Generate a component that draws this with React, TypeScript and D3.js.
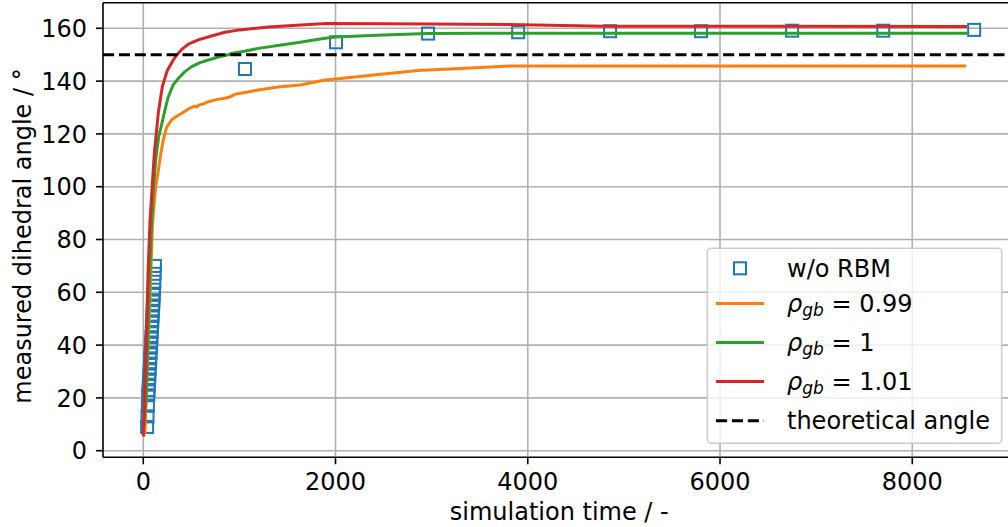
import React from "react";
import * as d3 from "d3";

// ---------- data ----------
const xTicks = [0, 2000, 4000, 6000, 8000];
const yTicks = [0, 20, 40, 60, 80, 100, 120, 140, 160];

const rbmTime = [40, 44, 48, 52, 55, 58, 61, 64, 67, 70, 73, 76, 79, 82, 85, 88, 91, 94, 97, 100, 103, 106, 109, 112, 115, 118, 121,
  1058, 2005, 2963, 3900, 4856, 5803, 6750, 7698, 8644];
const rbmAngle = [9, 13, 17, 21, 23, 25, 27, 29, 31, 33, 35, 37, 39, 41, 43, 45, 47, 49, 51, 53, 55, 57, 59, 61, 64, 67, 70,
  144.6, 154.7, 158.0, 158.5, 158.9, 158.9, 159.1, 159.1, 159.4];

const t099 = [0, 18, 40, 70, 95, 104, 130, 156, 180, 208, 243, 295, 340, 400, 450, 500, 538, 560, 580, 620, 677, 760, 800, 850, 900, 954, 1100, 1197, 1400, 1630, 1891, 2000, 2500, 2858, 3300, 3815, 8560];
const a099 = [5.3, 7, 30, 57, 85, 90, 100, 106, 112, 117.7, 122.5, 125.3, 126.5, 127.8, 129, 130, 130.5, 130.3, 131, 131.3, 132.2, 133, 133.2, 133.5, 134, 135, 136, 136.6, 137.8, 138.5, 140.4, 140.8, 142.7, 144, 144.8, 145.7, 145.7];

const t100 = [0, 30, 50, 70, 87, 105, 129, 160, 191, 225, 260, 310, 364, 430, 504, 590, 677, 800, 885, 920, 1050, 1197, 1400, 1630, 1891, 2000, 2500, 2950, 3500, 8570];
const a100 = [7, 20, 45, 70, 87, 99, 110, 119, 123.5, 129, 134, 138.5, 141, 143.5, 145.5, 147, 148, 149.3, 150, 150.5, 151.3, 152.4, 153.5, 154.7, 156.2, 156.7, 157.5, 158, 158.1, 158.1];

const t101 = [0, 30, 50, 70, 115, 156, 198, 250, 312, 350, 400, 470, 572, 700, 850, 1000, 1300, 1600, 1900, 2500, 3000, 3800, 4800, 8570];
const a101 = [5.5, 40, 68, 87, 112.6, 127.8, 137.9, 144, 148, 150, 152, 154, 155.6, 157, 158.5, 159.4, 160.5, 161.2, 161.8, 161.7, 161.6, 161.4, 160.8, 160.7];

const theoreticalAngle = 150;

const seriesLabels = ["0.99", "1", "1.01"];
const colors = { rbm: "#1f77b4", s099: "#ff7f0e", s100: "#2ca02c", s101: "#d62728" };

// ---------- layout ----------
const W = 1008, H = 527;
const FONT = "DejaVu Sans, Verdana, sans-serif";
const FS = 24;

export default function App() {
  const x = d3.scaleLinear().domain([-419, 9074]).range([103, 1015.5]);
  const y = d3.scaleLinear().domain([-2.5, 169.7]).range([457.3, 2.7]);
  const line = d3.line<[number, number]>().x(d => x(d[0])).y(d => y(d[1]));
  const zip = (a: number[], b: number[]) => a.map((v, i) => [v, b[i]] as [number, number]);
  const [x0, x1] = x.range();
  const [yb, yt] = y.range();

  const legX = 707.3, legY = 248.3, legW = 294.4, legH = 195;
  const rows = [268.3, 303.5, 342.6, 381.6, 420.7];
  const hx0 = 716, hx1 = 764, tx = 787;

  const rho = (val: string, cy: number) => (
    <text x={tx} y={cy + 8.7} fontSize={FS} fontFamily={FONT}>
      <tspan fontStyle="italic">ρ</tspan>
      <tspan fontStyle="italic" fontSize={17} dy={4}>gb</tspan>
      <tspan dy={-4}>{" = " + val}</tspan>
    </text>
  );

  return (
    <div style={{ position: "absolute", left: 0, top: 0 }}>
      <svg width={W} height={H} style={{ display: "block", background: "white" }}>
        <defs>
          <clipPath id="plot"><rect x={x0} y={yt} width={x1 - x0} height={yb - yt} /></clipPath>
        </defs>
        {/* grid */}
        <g stroke="#b0b0b0" strokeWidth={1.6}>
          {xTicks.map(t => <line key={"gx" + t} x1={x(t)} x2={x(t)} y1={yt} y2={yb} />)}
          {yTicks.map(t => <line key={"gy" + t} x1={x0} x2={x1} y1={y(t)} y2={y(t)} />)}
        </g>
        <g clipPath="url(#plot)">
          {/* squares */}
          {rbmTime.map((t, i) => (
            <rect key={"sq" + i} x={x(t) - 6} y={y(rbmAngle[i]) - 6} width={12} height={12}
              fill="none" stroke={colors.rbm} strokeWidth={2} />
          ))}
          <path d={line(zip(t099, a099)) || ""} fill="none" stroke={colors.s099} strokeWidth={3} strokeLinejoin="round" />
          <path d={line(zip(t100, a100)) || ""} fill="none" stroke={colors.s100} strokeWidth={3} strokeLinejoin="round" />
          <path d={line(zip(t101, a101)) || ""} fill="none" stroke={colors.s101} strokeWidth={3} strokeLinejoin="round" />
          <line x1={x0} x2={x1} y1={y(theoreticalAngle)} y2={y(theoreticalAngle)} stroke="black" strokeWidth={3} strokeDasharray="11.1,4.8" />
        </g>
        {/* spines */}
        <g stroke="black" strokeWidth={1.6} fill="none">
          <line x1={x0} x2={x0} y1={yt} y2={yb} />
          <line x1={x0} x2={x1} y1={yb} y2={yb} />
          <line x1={x0} x2={x1} y1={yt} y2={yt} />
          <line x1={x1} x2={x1} y1={yt} y2={yb} />
        </g>
        {/* ticks */}
        <g stroke="black" strokeWidth={1.6}>
          {xTicks.map(t => <line key={"tx" + t} x1={x(t)} x2={x(t)} y1={yb} y2={yb + 7} />)}
          {yTicks.map(t => <line key={"ty" + t} x1={x0} x2={x0 - 7} y1={y(t)} y2={y(t)} />)}
        </g>
        <g fontFamily={FONT} fontSize={FS} fill="black">
          {xTicks.map(t => <text key={"lx" + t} x={x(t)} y={490} textAnchor="middle">{t}</text>)}
          {yTicks.map(t => <text key={"ly" + t} x={87} y={y(t) + 8.7} textAnchor="end">{t}</text>)}
          <text x={(x0 + x1) / 2} y={520} textAnchor="middle">simulation time / -</text>
          <text transform={`translate(31,${(yt + yb) / 2 + 6}) rotate(-90)`} textAnchor="middle">measured dihedral angle / °</text>
        </g>
        {/* legend */}
        <g>
          <rect x={legX} y={legY} width={legW} height={legH} rx={4} fill="white" fillOpacity={0.8} stroke="#cccccc" strokeWidth={1.6} />
          <rect x={(hx0 + hx1) / 2 - 6} y={rows[0] - 6} width={12} height={12} fill="none" stroke={colors.rbm} strokeWidth={2} />
          <text x={tx} y={rows[0] + 8.7} fontSize={FS} fontFamily={FONT}>w/o RBM</text>
          <line x1={hx0} x2={hx1} y1={rows[1]} y2={rows[1]} stroke={colors.s099} strokeWidth={3} />
          {rho(seriesLabels[0], rows[1])}
          <line x1={hx0} x2={hx1} y1={rows[2]} y2={rows[2]} stroke={colors.s100} strokeWidth={3} />
          {rho(seriesLabels[1], rows[2])}
          <line x1={hx0} x2={hx1} y1={rows[3]} y2={rows[3]} stroke={colors.s101} strokeWidth={3} />
          {rho(seriesLabels[2], rows[3])}
          <line x1={hx0} x2={hx1} y1={rows[4]} y2={rows[4]} stroke="black" strokeWidth={3} strokeDasharray="11.1,4.8" />
          <text x={tx} y={rows[4] + 8.7} fontSize={FS} fontFamily={FONT}>theoretical angle</text>
        </g>
      </svg>
    </div>
  );
}
